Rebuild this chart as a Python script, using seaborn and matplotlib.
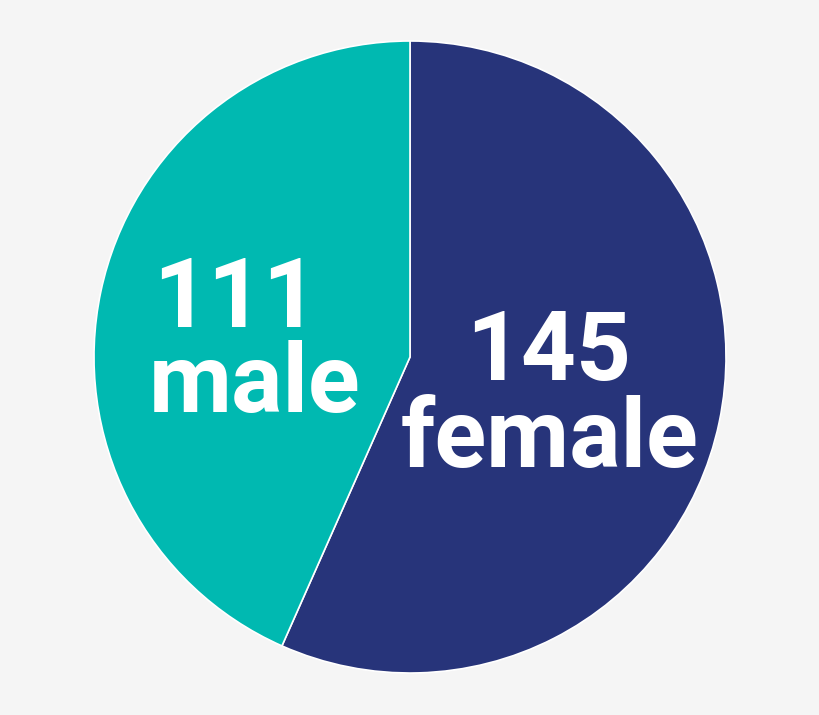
import matplotlib
matplotlib.use("Agg")
import matplotlib.pyplot as plt
import seaborn as sns

# data
labels = ["female", "male"]
counts = [145, 111]
colors = ["#27347a", "#00b9b1"]

sns.set_style("white")
plt.rcParams["font.family"] = ["Roboto", "DejaVu Sans"]

W, H = 820, 715
fig = plt.figure(figsize=(W / 100, H / 100), dpi=100)
fig.patch.set_facecolor("#f5f5f5")

cx, cy, r = 410, 357, 316
ax = fig.add_axes([(cx - r) / W, (H - cy - r) / H, 2 * r / W, 2 * r / H])
ax.pie(counts, colors=colors, startangle=90, counterclock=False,
       wedgeprops=dict(edgecolor="white", linewidth=1.2))
ax.set_xlim(-1, 1)
ax.set_ylim(-1, 1)
ax.set_aspect("equal")
ax.axis("off")


def put(text, x, y, ha):
    fig.text(x / W, 1 - y / H, text, ha=ha, va="baseline", color="white",
             fontsize=69, fontweight="bold")


# male label (left aligned)
put(str(counts[1]), 153, 327, "left")
put(labels[1], 149, 412, "left")
# female label (centred)
put(str(counts[0]), 549, 380, "center")
put(labels[0], 549, 467, "center")

fig.savefig("out.png", dpi=100, facecolor=fig.get_facecolor())
